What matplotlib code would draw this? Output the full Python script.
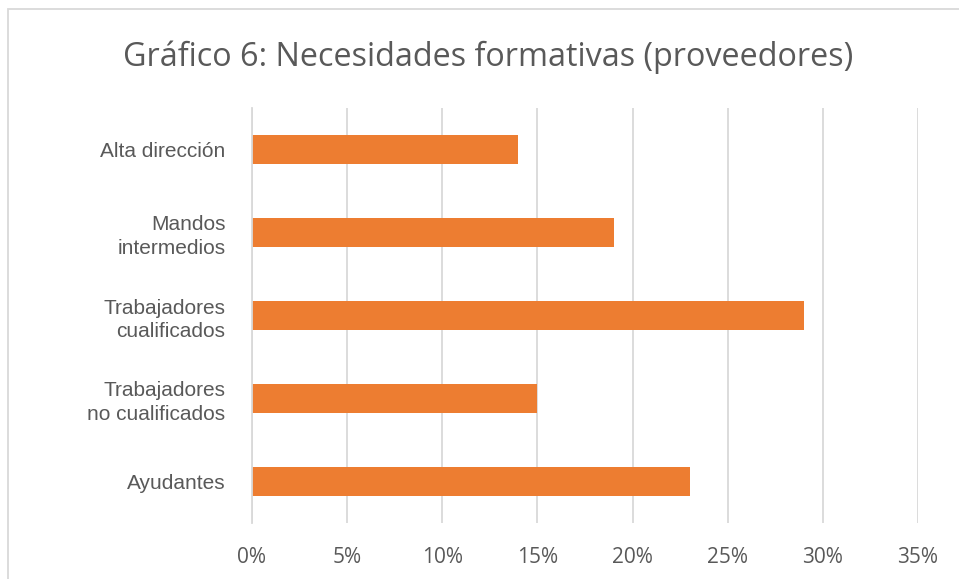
import matplotlib.pyplot as plt
from matplotlib.patches import Rectangle
from matplotlib.ticker import FuncFormatter

categories = ['Alta dirección', 'Mandos\nintermedios', 'Trabajadores\ncualificados',
              'Trabajadores\nno cualificados', 'Ayudantes']
values = [0.14, 0.19, 0.29, 0.15, 0.23]
xticks = [0, 0.05, 0.10, 0.15, 0.20, 0.25, 0.30, 0.35]

grey = '#595959'

fig = plt.figure(figsize=(9.59, 5.79), dpi=100)
ax = fig.add_axes([252 / 959, 1 - 523 / 579, (918 - 252) / 959, (523 - 108) / 579])

y = list(range(len(categories)))
ax.barh(y, values, height=0.35, color='#ED7D31', zorder=3)
ax.set_ylim(len(categories) - 0.5, -0.5)
ax.set_xlim(0, 0.35)
ax.set_xticks(xticks)
ax.xaxis.set_major_formatter(FuncFormatter(lambda v, p: f'{v * 100:.0f}%'))
ax.set_yticks(y)
ax.set_yticklabels(categories, fontfamily='Liberation Sans', fontsize=15, color=grey,
                   linespacing=1.27)
for lab in ax.get_xticklabels():
    lab.set_fontfamily('Open Sans')
    lab.set_fontsize(15)
    lab.set_color(grey)

ax.grid(axis='x', color='#D9D9D9', linewidth=1.3, zorder=0)
ax.tick_params(axis='x', length=0, pad=17)
ax.tick_params(axis='y', length=0, pad=19)
for s in ['top', 'right', 'bottom']:
    ax.spines[s].set_visible(False)
ax.spines['left'].set_color('#D9D9D9')
ax.spines['left'].set_linewidth(1.3)
ax.spines['left'].set_zorder(4)

fig.text(488 / 959, 1 - 57 / 579, 'Gráfico 6: Necesidades formativas (proveedores)',
         ha='center', va='center', fontfamily='Open Sans', fontsize=23.3, color=grey)

fig.patches.append(Rectangle((8 / 959, -0.1), 1.2, 1 - 9 / 579 + 0.1, transform=fig.transFigure,
                             fill=False, edgecolor='#D9D9D9', linewidth=1.3))

fig.savefig('out.png', dpi=100)
